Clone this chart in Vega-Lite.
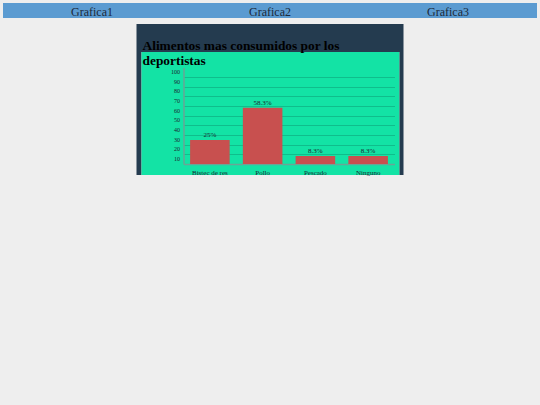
{
  "$schema": "https://vega.github.io/schema/vega-lite/v6.json",
  "background": "#eeeeee",
  "padding": {"left": 3, "top": 3, "right": 3, "bottom": 230},
  "center": true,
  "spacing": 6,
  "config": {
    "font": "Liberation Serif",
    "view": {"stroke": null}
  },
  "vconcat": [
    {
      "width": 534,
      "height": 15,
      "view": {"fill": "#5b9bd1"},
      "data": {"values": [{"pestana": "Grafica1"}, {"pestana": "Grafica2"}, {"pestana": "Grafica3"}]},
      "mark": {"type": "text", "fontSize": 12, "baseline": "alphabetic", "dy": 5, "color": "#1c2a3a"},
      "encoding": {
        "x": {"field": "pestana", "type": "nominal", "sort": null, "axis": null, "scale": {"type": "band", "paddingInner": 0, "paddingOuter": 0}},
        "text": {"field": "pestana"}
      }
    },
    {
      "bounds": "flush",
      "spacing": 0,
      "vconcat": [
        {
          "width": 267,
          "height": 28,
          "view": {"fill": "#243b4f"},
          "data": {"values": []},
          "mark": "rect",
          "encoding": {}
        },
        {
          "bounds": "flush",
          "spacing": 0,
          "hconcat": [
            {
              "width": 5,
              "height": 123,
              "view": {"fill": "#243b4f"},
              "data": {"values": []},
              "mark": "rect",
              "encoding": {}
            },
            {
              "width": 258,
              "height": 123,
              "view": {"fill": "#13e3a5"},
              "title": {
                "text": ["Alimentos mas consumidos por los", "deportistas"],
                "anchor": "start",
                "frame": "group",
                "baseline": "alphabetic",
                "offset": -26.5,
                "dx": 1,
                "fontSize": 13.4,
                "fontWeight": "bold",
                "font": "Liberation Serif",
                "color": "#000000",
                "lineHeight": 15.5
              },
              "data": {"values": [
                {"alimento": "Bistec de res", "porcentaje": 25, "etiqueta": "25%"},
                {"alimento": "Pollo", "porcentaje": 58.3, "etiqueta": "58.3%"},
                {"alimento": "Pescado", "porcentaje": 8.3, "etiqueta": "8.3%"},
                {"alimento": "Ninguno", "porcentaje": 8.3, "etiqueta": "8.3%"}
              ]},
              "encoding": {
                "x": {
                  "field": "alimento",
                  "type": "nominal",
                  "sort": null,
                  "scale": {"range": [42, 253], "paddingInner": 0.25, "paddingOuter": 0.125},
                  "axis": {
                    "title": null,
                    "orient": "bottom",
                    "offset": -11,
                    "domainColor": "#6aa596",
                    "domainWidth": 1.5,
                    "ticks": false,
                    "tickSize": 0,
                    "labelAngle": 0,
                    "labelPadding": 4,
                    "labelFontSize": 7,
                    "labelFont": "Liberation Serif",
                    "labelColor": "#1b2631",
                    "grid": false
                  }
                },
                "y": {
                  "field": "porcentaje",
                  "type": "quantitative",
                  "scale": {"domain": [0, 100], "range": [112, 15.5]},
                  "axis": {
                    "title": null,
                    "orient": "left",
                    "offset": -42,
                    "values": [10, 20, 30, 40, 50, 60, 70, 80, 90, 100],
                    "domainColor": "#6aa596",
                    "domainWidth": 1.5,
                    "ticks": false,
                    "tickSize": 0,
                    "labelPadding": 4,
                    "labelOffset": 4,
                    "labelFontSize": 6,
                    "labelFont": "Liberation Serif",
                    "labelColor": "#1b2631",
                    "grid": true,
                    "gridColor": "#0fb585",
                    "gridWidth": 0.8,
                    "gridOpacity": {"condition": {"test": "datum.value >= 100", "value": 0}, "value": 1}
                  }
                }
              },
              "layer": [
                {"mark": {"type": "bar", "color": "#c8504f"}},
                {
                  "mark": {"type": "text", "baseline": "bottom", "dy": -2, "fontSize": 7, "font": "Liberation Serif", "color": "#1b2631"},
                  "encoding": {"text": {"field": "etiqueta"}}
                }
              ]
            },
            {
              "width": 4,
              "height": 123,
              "view": {"fill": "#243b4f"},
              "data": {"values": []},
              "mark": "rect",
              "encoding": {}
            }
          ]
        }
      ]
    }
  ]
}
